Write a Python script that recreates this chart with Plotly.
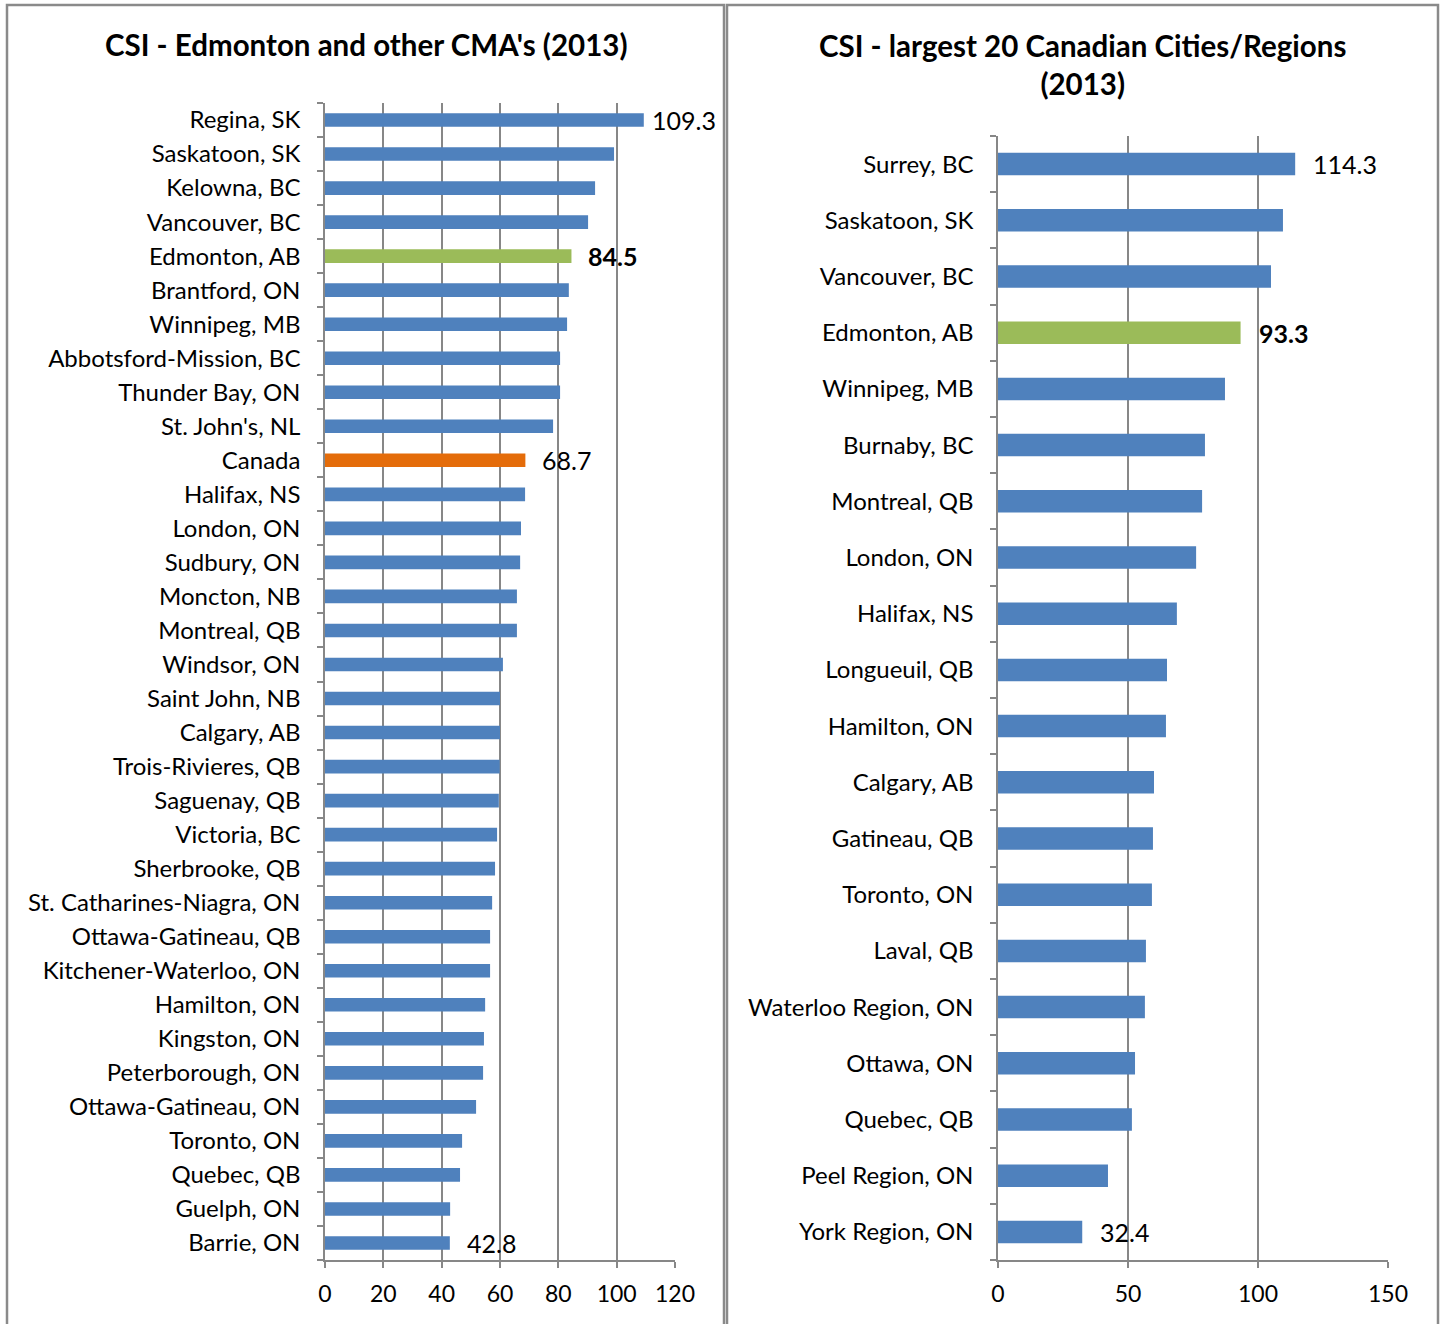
import plotly.graph_objects as go

W, H = 1443, 1324

left_cities = ["Regina, SK", "Saskatoon, SK", "Kelowna, BC", "Vancouver, BC", "Edmonton, AB",
               "Brantford, ON", "Winnipeg, MB", "Abbotsford-Mission, BC", "Thunder Bay, ON",
               "St. John's, NL", "Canada", "Halifax, NS", "London, ON", "Sudbury, ON",
               "Moncton, NB", "Montreal, QB", "Windsor, ON", "Saint John, NB", "Calgary, AB",
               "Trois-Rivieres, QB", "Saguenay, QB", "Victoria, BC", "Sherbrooke, QB",
               "St. Catharines-Niagra, ON", "Ottawa-Gatineau, QB", "Kitchener-Waterloo, ON",
               "Hamilton, ON", "Kingston, ON", "Peterborough, ON", "Ottawa-Gatineau, ON",
               "Toronto, ON", "Quebec, QB", "Guelph, ON", "Barrie, ON"]
left_csi = [109.3, 99.1, 92.6, 90.2, 84.5, 83.6, 83.0, 80.6, 80.6, 78.2, 68.7, 68.6, 67.2,
            66.9, 65.8, 65.8, 61.0, 60.0, 60.0, 59.9, 59.6, 59.0, 58.3, 57.3, 56.6, 56.6,
            54.9, 54.5, 54.2, 51.8, 47.0, 46.3, 42.9, 42.8]

right_cities = ["Surrey, BC", "Saskatoon, SK", "Vancouver, BC", "Edmonton, AB", "Winnipeg, MB",
                "Burnaby, BC", "Montreal, QB", "London, ON", "Halifax, NS", "Longueuil, QB",
                "Hamilton, ON", "Calgary, AB", "Gatineau, QB", "Toronto, ON", "Laval, QB",
                "Waterloo Region, ON", "Ottawa, ON", "Quebec, QB", "Peel Region, ON",
                "York Region, ON"]
right_csi = [114.3, 109.6, 105.0, 93.3, 87.3, 79.6, 78.5, 76.2, 68.8, 65.0, 64.6, 60.0,
             59.6, 59.2, 56.9, 56.5, 52.7, 51.5, 42.3, 32.4]

left_ticks = [0, 20, 40, 60, 80, 100, 120]
right_ticks = [0, 50, 100, 150]

BLUE = "#4F81BD"
GREEN = "#9BBB59"
ORANGE = "#E46C0A"
GRID = "#878787"
FONT = "Lato"


def bar_colors(cities):
    out = []
    for c in cities:
        if c == "Edmonton, AB":
            out.append(GREEN)
        elif c == "Canada":
            out.append(ORANGE)
        else:
            out.append(BLUE)
    return out


fig = go.Figure()
fig.add_trace(go.Bar(x=left_csi, y=list(range(len(left_cities))), orientation="h",
                     marker=dict(color=bar_colors(left_cities), line=dict(width=0)),
                     width=0.4, xaxis="x", yaxis="y", showlegend=False, hoverinfo="x"))
fig.add_trace(go.Bar(x=right_csi, y=list(range(len(right_cities))), orientation="h",
                     marker=dict(color=bar_colors(right_cities), line=dict(width=0)),
                     width=0.4, xaxis="x2", yaxis="y2", showlegend=False, hoverinfo="x"))

# data labels
annots = []
def add_label(cities, vals, idx, xr, yr, shift):
    c = cities[idx]
    v = vals[idx]
    txt = f"<b>{v:.1f}</b>" if c == "Edmonton, AB" else f"{v:.1f}"
    annots.append(dict(x=v, y=idx, xref=xr, yref=yr, text=txt, showarrow=False,
                       xanchor="left", yanchor="middle", xshift=shift, yshift=0,
                       font=dict(family=FONT, size=25, color="black")))

add_label(left_cities, left_csi, 0, "x", "y", 6)
add_label(left_cities, left_csi, left_cities.index("Edmonton, AB"), "x", "y", 15)
add_label(left_cities, left_csi, left_cities.index("Canada"), "x", "y", 15)
add_label(left_cities, left_csi, len(left_cities) - 1, "x", "y", 15)
add_label(right_cities, right_csi, 0, "x2", "y2", 16)
add_label(right_cities, right_csi, right_cities.index("Edmonton, AB"), "x2", "y2", 16)
add_label(right_cities, right_csi, len(right_cities) - 1, "x2", "y2", 16)

# titles
annots.append(dict(x=366 / W, y=1 - 45 / H, xref="paper", yref="paper", showarrow=False,
                   text="<b>CSI - Edmonton and other CMA's (2013)</b>", xanchor="center", yanchor="middle",
                   font=dict(family=FONT, size=29.5, color="black")))
annots.append(dict(x=1082 / W, y=1 - 65 / H, xref="paper", yref="paper", showarrow=False,
                   text="<b>CSI - largest 20 Canadian Cities/Regions<br>(2013)</b>",
                   xanchor="center", yanchor="middle",
                   font=dict(family=FONT, size=29.5, color="black")))

common_x = dict(showgrid=True, gridcolor=GRID, gridwidth=1.5, showline=True, linecolor=GRID,
                linewidth=1.5, ticks="outside", ticklen=6, tickcolor=GRID, tickwidth=1.5,
                tickfont=dict(family=FONT, size=23, color="black"), zeroline=False,
                tickmode="array", fixedrange=True, automargin=False)
common_y = dict(showgrid=False, showline=True, linecolor=GRID, linewidth=1.5, ticks="",
                tickfont=dict(family=FONT, size=24, color="black"), zeroline=False,
                tickmode="array", ticklabelstandoff=18, fixedrange=True, automargin=False,
                minor=dict(ticks="outside", ticklen=6, tickcolor=GRID, tickwidth=1.5,
                           tickmode="linear", tick0=-0.5, dtick=1, showgrid=False))

fig.update_layout(
    template="none",
    width=W, height=H, autosize=False, margin=dict(l=0, r=0, t=0, b=0, pad=0),
    paper_bgcolor="white", plot_bgcolor="white",
    bargap=0.6,
    xaxis=dict(domain=[325 / W, 675 / W], range=[0, 120], tickvals=left_ticks,
               anchor="y", ticklabelstandoff=7, **common_x),
    yaxis=dict(domain=[1 - 1260 / H, 1 - 103 / H], range=[len(left_cities) - 0.5, -0.5],
               tickvals=list(range(len(left_cities))), ticktext=left_cities, anchor="x", **common_y),
    xaxis2=dict(domain=[998 / W, 1388 / W], range=[0, 150], tickvals=right_ticks,
                anchor="y2", ticklabelstandoff=7, **common_x),
    yaxis2=dict(domain=[1 - 1260 / H, 1 - 136 / H], range=[len(right_cities) - 0.5, -0.5],
                tickvals=list(range(len(right_cities))), ticktext=right_cities, anchor="x2", **common_y),
    annotations=annots,
    shapes=[
        dict(type="rect", xref="paper", yref="paper", x0=7 / W, x1=724 / W, y0=-0.05, y1=1 - 5 / H,
             line=dict(color="#8a8a8a", width=2.5), layer="below"),
        dict(type="rect", xref="paper", yref="paper", x0=727 / W, x1=1438 / W, y0=-0.05, y1=1 - 5 / H,
             line=dict(color="#8a8a8a", width=2.5), layer="below"),
    ],
)

fig.write_html(
    "out.html",
    config={"responsive": False, "displayModeBar": False},
    post_script="document.body.style.margin='0px';document.body.style.overflow='hidden';",
)
